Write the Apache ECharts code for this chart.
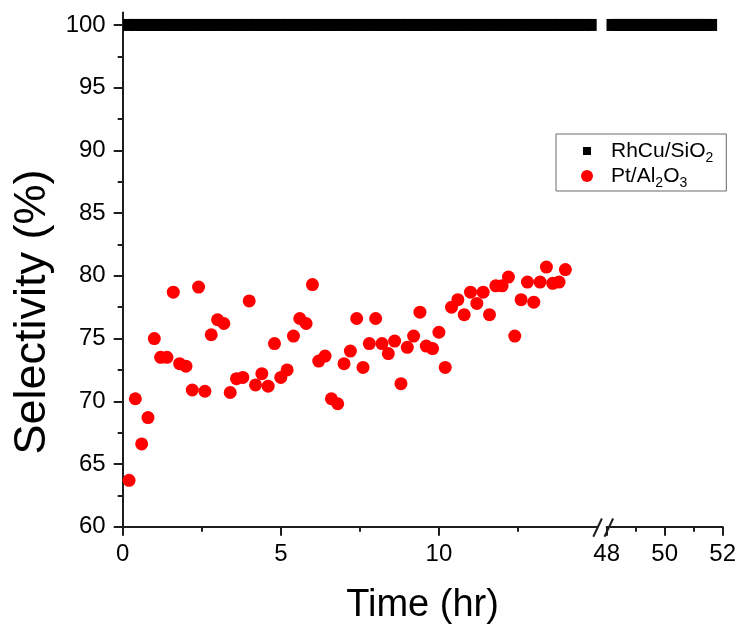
<!DOCTYPE html>
<html>
<head>
<meta charset="utf-8">
<script src="https://cdn.jsdelivr.net/npm/echarts@6/dist/echarts.min.js"></script>
<style>
html,body{margin:0;padding:0;background:#fff;}
#chart{width:740px;height:628px;}
</style>
</head>
<body>
<div id="chart"></div>
<script>
// ---------- data ----------
const seriesNames = ['RhCu/SiO2', 'Pt/Al2O3'];

// Pt/Al2O3 selectivity (%) vs time (hr)
const timePt = [0.2,0.4,0.6,0.8,1.0,1.2,1.4,1.6,1.8,2.0,2.2,2.4,2.6,2.8,3.0,3.2,3.4,3.6,3.8,4.0,
  4.2,4.4,4.6,4.8,5.0,5.2,5.4,5.6,5.8,6.0,6.2,6.4,6.6,6.8,7.0,7.2,7.4,7.6,7.8,8.0,
  8.2,8.4,8.6,8.8,9.0,9.2,9.4,9.6,9.8,10.0,10.2,10.4,10.6,10.8,11.0,11.2,11.4,11.6,11.8,12.0,
  12.2,12.4,12.6,12.8,13.0,13.2,13.4,13.6,13.8,14.0];
const selPt = [63.7,70.2,66.6,68.7,75.0,73.5,73.5,78.7,73.0,72.8,70.9,79.1,70.8,75.3,76.5,76.2,70.7,71.8,71.9,78.0,
  71.3,72.2,71.2,74.6,71.9,72.5,75.2,76.6,76.2,79.3,73.2,73.6,70.2,69.8,73.0,74.0,76.6,72.7,74.6,76.6,
  74.6,73.8,74.8,71.4,74.3,75.2,77.1,74.4,74.2,75.5,72.7,77.5,78.1,76.9,78.7,77.8,78.7,76.9,79.2,79.2,
  79.9,75.2,78.1,79.5,77.9,79.5,80.7,79.4,79.5,80.5];

// RhCu/SiO2 selectivity (%) – first run segment (0-15 hr)
const timeRhCuA = [0.2,0.4,0.6,0.8,1.0,1.2,1.4,1.6,1.8,2.0,2.2,2.4,2.6,2.8,3.0,3.2,3.4,3.6,3.8,4.0,
  4.2,4.4,4.6,4.8,5.0,5.2,5.4,5.6,5.8,6.0,6.2,6.4,6.6,6.8,7.0,7.2,7.4,7.6,7.8,8.0,
  8.2,8.4,8.6,8.8,9.0,9.2,9.4,9.6,9.8,10.0,10.2,10.4,10.6,10.8,11.0,11.2,11.4,11.6,11.8,12.0,
  12.2,12.4,12.6,12.8,13.0,13.2,13.4,13.6,13.8,14.0,14.2,14.4,14.6,14.8];
const selRhCuA = [100,100,100,100,100,100,100,100,100,100,100,100,100,100,100,100,100,100,100,100,
  100,100,100,100,100,100,100,100,100,100,100,100,100,100,100,100,100,100,100,100,
  100,100,100,100,100,100,100,100,100,100,100,100,100,100,100,100,100,100,100,100,
  100,100,100,100,100,100,100,100,100,100,100,100,100,100];
// RhCu/SiO2 – late segment (48-52 hr)
const timeRhCuB = [48.2,48.4,48.6,48.8,49.0,49.2,49.4,49.6,49.8,50.0,50.2,50.4,50.6,50.8,51.0,51.2,51.4,51.6];
const selRhCuB = [100,100,100,100,100,100,100,100,100,100,100,100,100,100,100,100,100,100];

// axis ticks
const yMajorTicks = [60,65,70,75,80,85,90,95,100];
const yMinorTicks = [62.5,67.5,72.5,77.5,82.5,87.5,92.5,97.5];
const xMajorTicksA = [0,5,10];
const xMinorTicksA = [2.5,7.5,12.5];
const xMajorTicksB = [48,50,52];
const xMinorTicksB = [49,51];

const xTitle = 'Time (hr)';
const yTitle = 'Selectivity (%)';

// ---------- chart ----------
const FONT = "'Liberation Sans', Arial, Helvetica, sans-serif";
const AX = '#1e1e1e';
const chart = echarts.init(document.getElementById('chart'), null, {renderer: 'canvas'});

const gridTop = 12.4, gridH = 514.3;
const zip = (a, b) => a.map((v, i) => [v, b[i]]);

function xAxisMajor(grid, min, max, ticks) {
  return {
    type: 'value', gridIndex: grid, min: min, max: max, position: 'bottom',
    axisLine: {show: true, onZero: false, lineStyle: {color: AX, width: 2}},
    axisTick: {show: true, length: 9, customValues: ticks, lineStyle: {color: AX, width: 2}},
    axisLabel: {show: true, customValues: ticks, fontSize: 24, fontFamily: FONT, color: '#000', margin: 16},
    splitLine: {show: false}
  };
}
function xAxisMinor(grid, min, max, ticks) {
  return {
    type: 'value', gridIndex: grid, min: min, max: max, position: 'bottom', offset: 0,
    axisLine: {show: false, onZero: false},
    axisTick: {show: true, length: 5, customValues: ticks, lineStyle: {color: AX, width: 2}},
    axisLabel: {show: false},
    splitLine: {show: false}
  };
}

const option = {
  backgroundColor: '#fff',
  animation: false,
  grid: [
    {left: 122.7, top: gridTop, width: 474.3, height: gridH},
    {left: 606.7, top: gridTop, width: 116, height: gridH}
  ],
  xAxis: [
    xAxisMajor(0, 0, 15, xMajorTicksA),
    xAxisMinor(0, 0, 15, xMinorTicksA),
    xAxisMajor(1, 48, 52, xMajorTicksB),
    xAxisMinor(1, 48, 52, xMinorTicksB)
  ],
  yAxis: [
    {
      type: 'value', gridIndex: 0, min: 60, max: 101, position: 'left',
      axisLine: {show: true, onZero: false, lineStyle: {color: AX, width: 2}},
      axisTick: {show: true, length: 9, customValues: yMajorTicks, lineStyle: {color: AX, width: 2}},
      axisLabel: {show: true, customValues: yMajorTicks, fontSize: 24, fontFamily: FONT, color: '#000', margin: 17},
      splitLine: {show: false}
    },
    {
      type: 'value', gridIndex: 0, min: 60, max: 101, position: 'left', offset: 0,
      axisLine: {show: false, onZero: false},
      axisTick: {show: true, length: 5, customValues: yMinorTicks, lineStyle: {color: AX, width: 2}},
      axisLabel: {show: false},
      splitLine: {show: false}
    },
    {
      type: 'value', gridIndex: 1, min: 60, max: 101, show: false
    }
  ],
  legend: {
    orient: 'vertical',
    left: 556, top: 134,
    padding: [3, 13, 1, 25],
    itemGap: -3,
    itemWidth: 12, itemHeight: 12,
    borderColor: '#6a6a6a', borderWidth: 1,
    data: [
      {name: seriesNames[0], icon: 'path://M0,0M12,12M2,2L10,2L10,10L2,10Z', itemStyle: {color: '#000', opacity: 1}},
      {name: seriesNames[1], icon: 'circle', itemStyle: {color: '#ff0000', opacity: 1}}
    ],
    formatter: function (n) {
      if (n === seriesNames[0]) return '{g|}RhCu/SiO{s|2}';
      return '{g|}Pt/Al{s|2}O{s|3}';
    },
    textStyle: {
      fontSize: 21, fontFamily: FONT, color: '#000', lineHeight: 28,
      rich: {
        g: {width: 13, lineHeight: 28},
        s: {fontSize: 14, fontFamily: FONT, color: '#000', verticalAlign: 'bottom', lineHeight: 14}
      }
    }
  },
  series: [
    {
      name: seriesNames[0], type: 'scatter', xAxisIndex: 0, yAxisIndex: 0,
      symbol: 'rect', symbolSize: 12, itemStyle: {color: '#000', opacity: 1},
      data: zip(timeRhCuA, selRhCuA), z: 2
    },
    {
      name: seriesNames[0], type: 'scatter', xAxisIndex: 2, yAxisIndex: 2,
      symbol: 'rect', symbolSize: 12, itemStyle: {color: '#000', opacity: 1},
      data: zip(timeRhCuB, selRhCuB), z: 2
    },
    {
      name: seriesNames[1], type: 'scatter', xAxisIndex: 0, yAxisIndex: 0,
      symbol: 'circle', symbolSize: 13, itemStyle: {color: '#ff0000', opacity: 1},
      data: zip(timePt, selPt), z: 3
    }
  ],
  graphic: [
    {type: 'line', shape: {x1: 593.3, y1: 536.7, x2: 601.9, y2: 518.5}, style: {stroke: AX, lineWidth: 2}, z: 100},
    {type: 'line', shape: {x1: 604.5, y1: 536.7, x2: 613.1, y2: 518.5}, style: {stroke: AX, lineWidth: 2}, z: 100},
    {type: 'text', x: 422.5, y: 606, z: 100,
      style: {text: xTitle, fontSize: 38, fontFamily: FONT, fill: '#000', align: 'center', verticalAlign: 'middle'}},
    {type: 'text', x: 33, y: 312, rotation: Math.PI / 2, z: 100,
      style: {text: yTitle, fontSize: 45, fontFamily: FONT, fill: '#000', align: 'center', verticalAlign: 'middle'}}
  ]
};
chart.setOption(option);
</script>
</body>
</html>
